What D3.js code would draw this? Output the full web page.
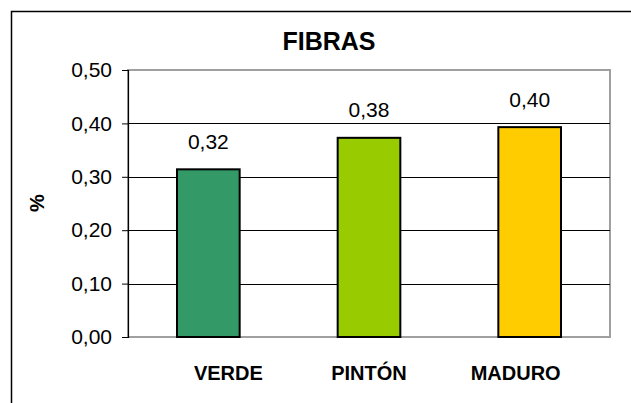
<!DOCTYPE html>
<html>
<head>
<meta charset="utf-8">
<script src="https://cdn.jsdelivr.net/npm/d3@7"></script>
<style>
  body { margin: 0; background: #fff; }
  svg text { font-family: "Liberation Sans", Arial, sans-serif; fill: #000; }
</style>
</head>
<body>
<div class="chart"></div>
<script>
// chart data
var categories = ["VERDE", "PINTÓN", "MADURO"];
var values     = [0.314, 0.373, 0.393];
var valueLabels = ["0,32", "0,38", "0,40"];
var barColors  = ["#339966", "#99cc00", "#ffcc00"];
var yTicks     = [0, 0.1, 0.2, 0.3, 0.4, 0.5];
var yTickLabels = ["0,00", "0,10", "0,20", "0,30", "0,40", "0,50"];

var svg = d3.select(".chart").append("svg").attr("width", 631).attr("height", 403),
    margin = {top: 70, right: 21, bottom: 66, left: 128},
    width  = +svg.attr("width")  - margin.left - margin.right,
    height = +svg.attr("height") - margin.top  - margin.bottom,
    x = d3.scaleBand().domain(categories).range([0, width]).paddingInner(0.61).paddingOuter(0.305),
    y = d3.scaleLinear().domain([0, 0.5]).range([height, 0]);

// outer chart border
svg.append("rect")
    .attr("x", 11.5).attr("y", 11.5)
    .attr("width", 660).attr("height", 420)
    .attr("fill", "none").attr("stroke", "#000").attr("stroke-width", 1.5);

svg.append("text")
    .attr("x", 329).attr("y", 50)
    .attr("text-anchor", "middle")
    .style("font-size", "25px").style("font-weight", "bold")
    .text("FIBRAS");

svg.append("text")
    .attr("transform", "translate(44,203) rotate(-90)")
    .attr("text-anchor", "middle")
    .style("font-size", "20px").style("font-weight", "bold")
    .text("%");

var g = svg.append("g").attr("transform", `translate(${margin.left},${margin.top})`);

// plot area
g.append("rect")
    .attr("width", width).attr("height", height)
    .attr("fill", "#fff").attr("stroke", "#a0a0a0").attr("stroke-width", 2);

// gridlines
g.selectAll(".grid")
  .data(yTicks.filter(d => d > 0 && d < 0.5))
  .enter().append("line")
    .attr("x1", 0).attr("x2", width)
    .attr("y1", d => Math.round(y(d)) + 0.5).attr("y2", d => Math.round(y(d)) + 0.5)
    .attr("stroke", "#000").attr("stroke-width", 1);

// y axis
var yAxis = g.append("g")
    .call(d3.axisLeft(y).tickValues(yTicks).tickSize(6).tickPadding(10)
      .tickFormat((d, i) => yTickLabels[i]));
yAxis.select(".domain").attr("stroke", "#000").attr("stroke-width", 1.2);
yAxis.selectAll(".tick line").attr("stroke", "#000");
yAxis.selectAll(".tick text")
    .style("font-size", "21px")
    .style("font-family", "'Liberation Sans', Arial, sans-serif")
    .attr("fill", "#000");

// bars
g.selectAll(".bar")
  .data(values)
  .enter().append("rect")
    .attr("class", "bar")
    .attr("x", (d, i) => x(categories[i]))
    .attr("y", d => y(d))
    .attr("width", x.bandwidth())
    .attr("height", d => height - y(d))
    .attr("fill", (d, i) => barColors[i])
    .attr("stroke", "#000").attr("stroke-width", 2);

// value labels
g.selectAll(".vlabel")
  .data(values)
  .enter().append("text")
    .attr("x", (d, i) => x(categories[i]) + x.bandwidth() / 2)
    .attr("y", d => y(d) - 20.5)
    .attr("text-anchor", "middle")
    .style("font-size", "21px")
    .text((d, i) => valueLabels[i]);

// category labels (excel placed them a bit off centre)
var labelShift = [20, 0, -14];
g.selectAll(".xlabel")
  .data(categories)
  .enter().append("text")
    .attr("x", (d, i) => x(d) + x.bandwidth() / 2 + labelShift[i])
    .attr("y", height + 43)
    .attr("text-anchor", "middle")
    .style("font-size", "20px").style("font-weight", "bold")
    .text(d => d);
</script>
</body>
</html>
